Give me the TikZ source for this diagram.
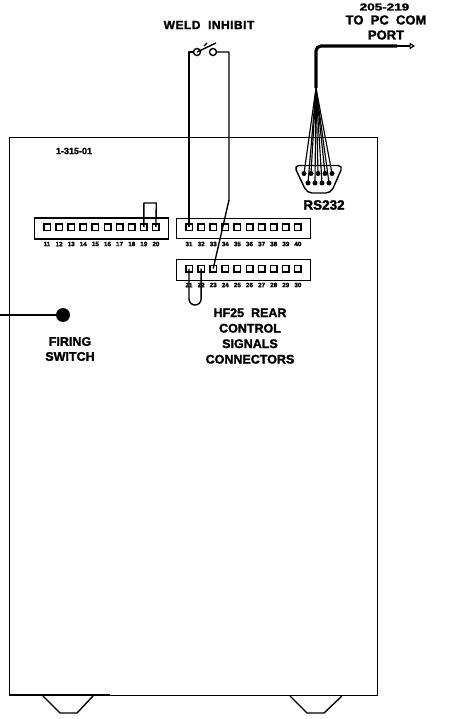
\documentclass[tikz,border=0pt]{standalone}
\usepackage{fontspec}
\setmainfont{Liberation Sans}[BoldFeatures={FakeBold=1.8}]
\usetikzlibrary{arrows.meta}
\tikzset{
  wire/.style={line width=1.4pt,line join=round},
  pinbox/.style={draw,line width=1.5pt,minimum size=6.5pt,inner sep=0pt,rectangle},
  header/.style={draw,line width=1.4pt,rectangle,inner sep=0pt},
  pinnum/.style={inner sep=0pt,font=\bfseries\fontsize{6.3}{6}\selectfont},
  lab/.style={inner sep=0pt,align=center,font=\bfseries\fontsize{12}{15}\selectfont},
  contact/.style={draw,circle,fill=white,line width=1.4pt,minimum size=7pt,inner sep=0pt},
  dbpin/.style={circle,fill=black,minimum size=5pt,inner sep=0pt},
}
\begin{document}
\begin{tikzpicture}[x=1pt,y=-1pt]
\useasboundingbox (0,0) rectangle (459,719);
\fill[white] (0,0) rectangle (459,719);
% cabinet
\node[header,minimum width=368pt,minimum height=558pt,anchor=north west] (cab) at (8.6,137) {};
\draw[line width=1.7pt] (8.6,695.3) -- (110,695.3);
\draw[wire] (43,696) -- (60,713) -- (77,713) -- (93,696);
\draw[wire] (290,696) -- (307,713) -- (324,713) -- (342,696);
% headers
\node[header,minimum width=134pt,minimum height=21pt] (h1) at (101.5,228.5) {};
\node[header,minimum width=134pt,minimum height=20.5pt] (h2) at (243.5,228.5) {};
\node[header,minimum width=134pt,minimum height=20.5pt] (h3) at (243.5,270) {};
\foreach \n [count=\i from 0] in {11,...,20}{
  \node[pinbox] (a\n) at ({47+12.1*\i},227) {};
  \node[pinnum] at ({47+12.1*\i},244) {\n};
}
\foreach \n [count=\i from 0] in {31,...,40}{
  \node[pinbox] (b\n) at ({189+12.1*\i},227) {};
  \node[pinnum] at ({189+12.1*\i},244) {\n};
}
\foreach \n [count=\i from 0] in {21,...,30}{
  \node[pinbox] (c\n) at ({189+12.1*\i},268.5) {};
  \node[pinnum] at ({189+12.1*\i},285) {\n};
}
% jumpers
\draw[wire] (a19.center) -- ++(0,-24) -- ++(12.5,0) -- (a20.center);
\draw[wire,rounded corners=6pt] (c21.center) -- ++(0,36.5) -- ++(12.1,0) -- (c22.center);
% switch
\node[contact] (sw1) at (197,52) {};
\node[contact] (sw2) at (213,52) {};
\coordinate (swt) at (216,43);
\coordinate (lt) at (189,52);
\coordinate (rt) at (229,52);
\coordinate (rb) at (229,200);
\draw[wire] (sw1) -- (lt) -- (b31.center);
\draw[wire] (sw2) -- (rt) -- (rb) -- (c23.center);
\draw[wire] (sw1.center) -- (swt);
\draw[wire] (204,46) -- (207,43);
% DB9
\draw[wire,rounded corners=5pt] (294,165.5) -- (343,165.5) -- (331,193) -- (307,193) -- cycle;
\foreach \k/\x in {1/304,2/311,3/318,4/325,5/332}{
  \node[dbpin] (p\k) at (\x,173.5) {};
}
\foreach \k/\x in {6/308,7/315,8/322,9/329}{
  \node[dbpin] (p\k) at (\x,183) {};
}
\coordinate (fan) at (316,88);
\foreach \k in {1,...,9}{ \draw[line width=1.15pt] (fan) -- (p\k.center); }
\coordinate (cor) at (316,46);
\coordinate (thick) at (397,46);
\coordinate (tip) at (415,46);
\draw[line width=3.2pt,rounded corners=5pt] (fan) -- (cor) -- (thick);
\draw[line width=1.2pt,-{Triangle[open,length=5.5pt,width=6.5pt]}] (thick) -- (tip);
% firing switch
\node[circle,fill=black,minimum size=14pt,inner sep=0pt] (fs) at (63,315) {};
\coordinate (fl) at (0,315);
\draw[line width=2pt] (fl) -- (fs);
% labels
\node[lab] (t1) at (209,25) {\addfontfeature{LetterSpace=4}WELD\ \ INHIBIT};
\node[lab,font=\bfseries\fontsize{10}{10}\selectfont] (t2) at (384.5,7) {\scalebox{1.35}[1]{205-219}};
\node[lab,font=\bfseries\fontsize{13}{15}\selectfont] (t3) at (386,27.5) {TO\ \ PC\ \ COM\\PORT};
\node[lab,font=\bfseries\fontsize{13.5}{14}\selectfont] (t4) at (324,205) {RS232};
\node[lab,font=\bfseries\fontsize{9}{10}\selectfont] (t5) at (74,151) {1-315-01};
\node[lab,font=\bfseries\fontsize{12.5}{15}\selectfont] (t6) at (70,349) {FIRING\\SWITCH};
\node[lab,font=\bfseries\fontsize{12.5}{15.5}\selectfont] (t7) at (250,336) {HF25\ \ REAR\\CONTROL\\SIGNALS\\CONNECTORS};
\end{tikzpicture}
\end{document}
